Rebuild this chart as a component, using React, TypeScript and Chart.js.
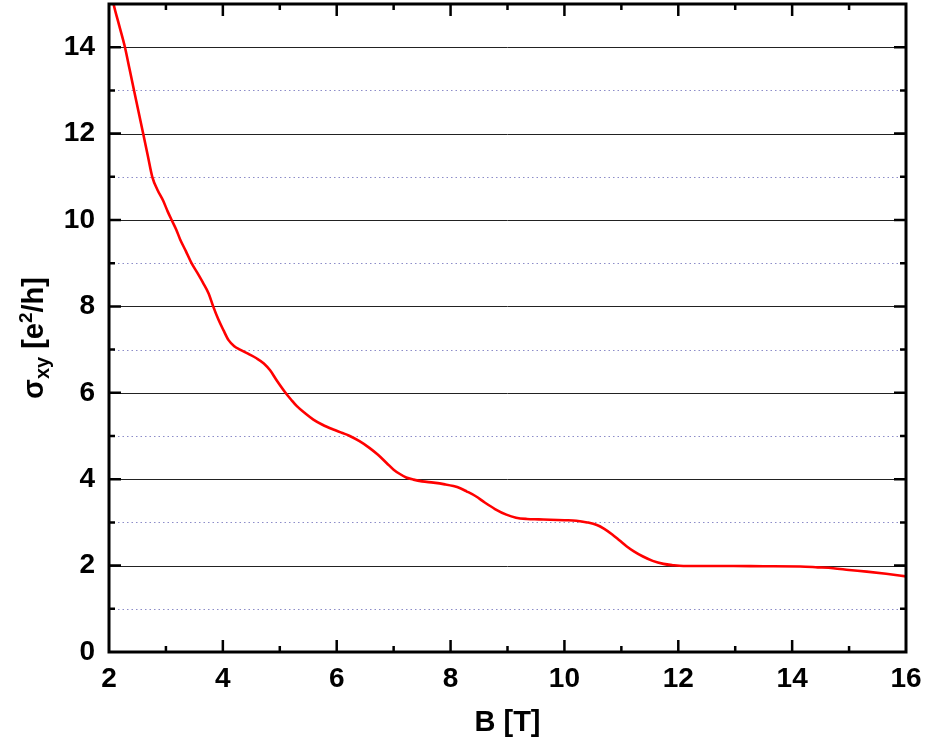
import React, { useEffect, useRef } from "react";
import { Chart, registerables } from "chart.js";

Chart.register(...registerables);

const fieldB: number[] = [
  2.05, 2.08, 2.18, 2.28, 2.36, 2.44, 2.52, 2.6, 2.68, 2.76, 2.85, 2.95, 3.03, 3.1,
  3.18, 3.25, 3.35, 3.45, 3.55, 3.65, 3.75, 3.83, 3.92, 4.01, 4.1, 4.2, 4.3, 4.45,
  4.59, 4.72, 4.83, 4.95, 5.09, 5.2, 5.3, 5.45, 5.59, 5.75, 5.94, 6.1, 6.23, 6.4,
  6.58, 6.72, 6.88, 7.0, 7.11, 7.22, 7.35, 7.5, 7.7, 7.9, 8.05, 8.17, 8.28, 8.45,
  8.6, 8.78, 8.98, 9.15, 9.34, 9.55, 9.75, 10.0, 10.21, 10.4, 10.57, 10.7, 10.84,
  10.97, 11.09, 11.22, 11.38, 11.55, 11.74, 11.9, 12.09, 12.5, 12.97, 13.5, 14.14,
  14.45, 14.72, 15.0, 15.31, 15.65, 16.0,
];
const sigmaXY: number[] = [
  15.2, 15.0, 14.5, 14.0, 13.5, 13.0, 12.5, 12.0, 11.5, 11.0, 10.7, 10.45, 10.2, 10.0,
  9.78, 9.55, 9.28, 9.0, 8.78, 8.55, 8.3, 8.0, 7.7, 7.45, 7.22, 7.08, 7.0, 6.9,
  6.8, 6.68, 6.52, 6.28, 6.02, 5.84, 5.69, 5.52, 5.38, 5.26, 5.15, 5.07, 5.0, 4.88,
  4.72, 4.57, 4.37, 4.22, 4.12, 4.04, 3.99, 3.95, 3.92, 3.88, 3.84, 3.79, 3.72, 3.6,
  3.46, 3.31, 3.18, 3.11, 3.08, 3.07, 3.06, 3.05, 3.04, 3.0, 2.94, 2.85, 2.72,
  2.58, 2.45, 2.33, 2.21, 2.11, 2.04, 2.01, 1.99, 1.99, 1.99, 1.985, 1.98,
  1.96, 1.94, 1.9, 1.86, 1.81, 1.75,
];
const xTickLabels: number[] = [2, 4, 6, 8, 10, 12, 14, 16];
const yTickLabels: number[] = [0, 2, 4, 6, 8, 10, 12, 14];
const xTitle = "B [T]";

const FONT = "'Liberation Sans', Arial, sans-serif";

const framePlugin = {
  id: "framePlugin",
  beforeDatasetsDraw(chart: any) {
    const { ctx, chartArea, scales } = chart;
    const { left, right } = chartArea;
    const y = scales.y;
    ctx.save();
    for (let v = 1; v <= 14; v++) {
      const py = Math.round(y.getPixelForValue(v)) + 0.5;
      ctx.beginPath();
      if (v % 2 === 0) {
        ctx.strokeStyle = "#222";
        ctx.lineWidth = 1;
        ctx.setLineDash([]);
      } else {
        ctx.strokeStyle = "#8c8cc8";
        ctx.lineWidth = 1;
        ctx.setLineDash([1.5, 3]);
      }
      ctx.moveTo(left, py);
      ctx.lineTo(right, py);
      ctx.stroke();
    }
    ctx.restore();
  },
  afterDatasetsDraw(chart: any) {
    const { ctx, chartArea, scales } = chart;
    const { left, right, top, bottom } = chartArea;
    const x = scales.x;
    const y = scales.y;
    ctx.save();
    ctx.strokeStyle = "#000";
    ctx.lineWidth = 2.5;
    ctx.setLineDash([]);
    for (let v = 3; v <= 15; v++) {
      const px = x.getPixelForValue(v);
      const len = v % 2 === 0 ? 12 : 6;
      ctx.beginPath();
      ctx.moveTo(px, bottom);
      ctx.lineTo(px, bottom - len);
      ctx.moveTo(px, top);
      ctx.lineTo(px, top + len);
      ctx.stroke();
    }
    for (let v = 1; v <= 14; v++) {
      const py = y.getPixelForValue(v);
      const len = v % 2 === 0 ? 12 : 6;
      ctx.beginPath();
      ctx.moveTo(left, py);
      ctx.lineTo(left + len, py);
      ctx.moveTo(right, py);
      ctx.lineTo(right - len, py);
      ctx.stroke();
    }
    ctx.lineWidth = 3;
    ctx.strokeRect(left, top, right - left, bottom - top);

    ctx.fillStyle = "#000";
    ctx.font = `bold 29px ${FONT}`;
    ctx.textAlign = "center";
    ctx.textBaseline = "alphabetic";
    ctx.fillText(xTitle, (left + right) / 2, 731);

    const parts = [
      { t: "σ", size: 29, dy: 0 },
      { t: "xy", size: 20, dy: 6 },
      { t: " [e", size: 29, dy: 0 },
      { t: "2", size: 19, dy: -11 },
      { t: "/h]", size: 29, dy: 0 },
    ];
    let total = 0;
    for (const p of parts) {
      ctx.font = `bold ${p.size}px ${FONT}`;
      total += ctx.measureText(p.t).width;
    }
    ctx.translate(43, 338);
    ctx.rotate(-Math.PI / 2);
    ctx.textAlign = "left";
    let cx = -total / 2;
    for (const p of parts) {
      ctx.font = `bold ${p.size}px ${FONT}`;
      ctx.fillText(p.t, cx, p.dy);
      cx += ctx.measureText(p.t).width;
    }
    ctx.restore();
  },
};

const zeroPad = (s: any) => {
  s.paddingTop = 0;
  s.paddingBottom = 0;
  s.paddingLeft = 0;
  s.paddingRight = 0;
};

export default function App() {
  const ref = useRef<HTMLCanvasElement | null>(null);
  useEffect(() => {
    if (!ref.current) return;
    const data = fieldB.map((b, i) => ({ x: b, y: sigmaXY[i] }));
    const chart = new Chart(ref.current, {
      type: "line",
      data: {
        datasets: [
          {
            data,
            borderColor: "#ff0000",
            borderWidth: 2.6,
            pointRadius: 0,
            cubicInterpolationMode: "monotone",
            fill: false,
          },
        ],
      },
      options: {
        animation: false,
        responsive: true,
        maintainAspectRatio: false,
        layout: { padding: { top: 4, right: 20, left: 0, bottom: 0 } },
        plugins: { legend: { display: false }, tooltip: { enabled: false } },
        scales: {
          x: {
            type: "linear",
            min: 2,
            max: 16,
            grid: { display: false, drawTicks: false },
            border: { display: false },
            afterBuildTicks: (s: any) => {
              s.ticks = xTickLabels.map((v) => ({ value: v }));
            },
            afterFit: (s: any) => {
              s.height = 90;
              zeroPad(s);
            },
            ticks: {
              padding: 10,
              color: "#000",
              maxRotation: 0,
              autoSkip: false,
              font: { family: FONT, size: 28, weight: "bold" },
            },
          },
          y: {
            type: "linear",
            min: 0,
            max: 15,
            grid: { display: false, drawTicks: false },
            border: { display: false },
            afterBuildTicks: (s: any) => {
              s.ticks = yTickLabels.map((v) => ({ value: v }));
            },
            afterFit: (s: any) => {
              s.width = 109;
              zeroPad(s);
            },
            ticks: {
              padding: 14,
              color: "#000",
              autoSkip: false,
              font: { family: FONT, size: 28, weight: "bold" },
            },
          },
        },
      },
      plugins: [framePlugin],
    });
    return () => chart.destroy();
  }, []);
  return (
    <div style={{ position: "fixed", left: 0, top: 0, width: 926, height: 742, background: "#fff" }}>
      <canvas ref={ref} />
    </div>
  );
}
